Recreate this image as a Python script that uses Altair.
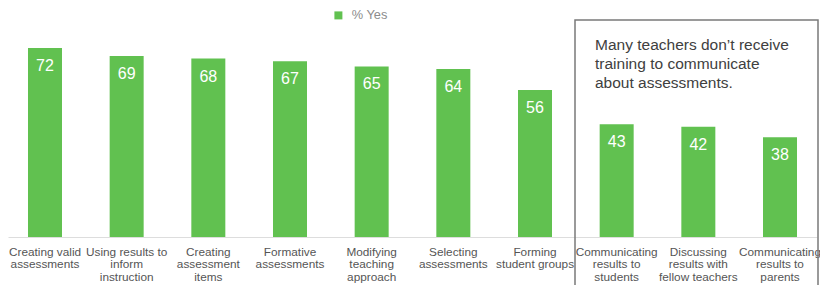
import altair as alt
import pandas as pd

categories = [
    "Creating valid\nassessments",
    "Using results to\ninform\ninstruction",
    "Creating\nassessment\nitems",
    "Formative\nassessments",
    "Modifying\nteaching\napproach",
    "Selecting\nassessments",
    "Forming\nstudent groups",
    "Communicating\nresults to\nstudents",
    "Discussing\nresults with\nfellow teachers",
    "Communicating\nresults to\nparents",
]
values = [72, 69, 68, 67, 65, 64, 56, 43, 42, 38]
series_name = "% Yes"
note_lines = ["Many teachers don\u2019t receive", "training to communicate", "about assessments."]

FONT = "Liberation Sans"
GREEN = "#61C150"

df = pd.DataFrame({"category": categories, "value": values, "series": series_name})

x = alt.X("category:N", sort=categories,
          scale=alt.Scale(paddingInner=0.584, paddingOuter=0.245, round=False),
          axis=alt.Axis(title=None, labelAngle=0, labelExpr="split(datum.label, '\\n')",
                        labelFont=FONT, labelFontSize=11.8, labelColor="#555555",
                        labelLineHeight=12.7, labelPadding=9, labelBaseline="top",
                        ticks=False, domainColor="#dddddd", domainWidth=1,
                        labelLimit=300))
y = alt.Y("value:Q", scale=alt.Scale(domain=[0, 87.24], nice=False, zero=True), axis=None)

bars = alt.Chart(df).mark_bar(size=34).encode(
    x=x, y=y,
    color=alt.Color("series:N", scale=alt.Scale(range=[GREEN]),
                    legend=alt.Legend(title=None, orient="none", legendX=324, legendY=1,
                                      symbolType="square", symbolSize=64,
                                      symbolStrokeWidth=0, padding=0,
                                      labelFont=FONT, labelFontSize=12.8,
                                      labelColor="#8c8c8c", labelOffset=7)),
)

labels = alt.Chart(df).mark_text(
    baseline="top", dy=10, color="white", font=FONT, fontSize=16
).encode(x=alt.X("category:N", sort=categories), y="value:Q", text="value:Q")

box_df = pd.DataFrame({"k": [0]})
box = alt.Chart(box_df).mark_rect(fill=None, stroke="#7a7a7a", strokeWidth=1.5).encode(
    x=alt.value(567), x2=alt.value(810), y=alt.value(12), y2=alt.value(320)
)

note_df = pd.DataFrame({"line": note_lines, "i": list(range(len(note_lines)))})
note = alt.Chart(note_df).mark_text(
    align="left", baseline="middle", font=FONT, fontSize=15.5, color="#404040"
).transform_calculate(py="37 + datum.i * 19").encode(
    x=alt.value(587), y=alt.Y("py:Q", scale=None, axis=None), text="line:N"
)

chart = alt.layer(bars, labels, box, note).properties(
    width=809, height=229,
    autosize=alt.AutoSizeParams(type="none"),
    padding={"left": 0, "top": 0, "right": 3, "bottom": 48},
).configure_view(stroke=None)

chart.save("out.html", embed_options={"renderer": "svg", "actions": False})
